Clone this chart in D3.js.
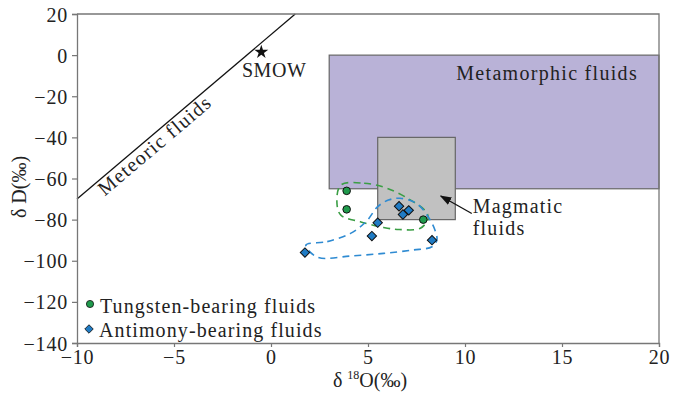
<!DOCTYPE html>
<html>
<head>
<meta charset="utf-8">
<script src="https://cdn.jsdelivr.net/npm/d3@7"></script>
<style>
	body { margin: 0; background: #fff; }
	svg text { font-family: 'Liberation Serif', 'Times New Roman', Times, 'DejaVu Serif', serif; fill: #222; }
</style>
</head>
<body>
<svg id="chart" width="673" height="393"></svg>
<script>
// δ18O / δD values
const tungstenX = [3.9, 3.9, 7.85];
const tungstenY = [-66, -75, -80];
const antimonyX = [6.6, 7.1, 6.8, 5.5, 5.2, 8.3, 1.75];
const antimonyY = [-73.5, -75.5, -77.5, -81.5, -88, -90, -96];

// dashed envelopes around each group (δ18O, δD)
const tungstenHull = [
	[3.6, -63.2], [4.8, -62.3], [6.0, -64.8], [7.2, -70.5], [8.0, -76.2], [8.1, -79.5],
	[7.7, -84.2], [6.6, -84.8], [5.8, -83.8], [4.6, -81.0], [3.6, -77.8], [3.4, -72.0],
];
const antimonyHull = [
	[1.8, -92.4], [2.9, -90.7], [4.1, -86.7], [4.9, -81.0], [5.5, -73.7], [6.05, -70.5],
	[6.65, -69.6], [7.5, -72.1], [8.1, -78.6], [8.45, -85.1], [8.55, -89.9], [8.3, -93.2],
	[7.3, -94.8], [5.8, -96.4], [4.1, -97.7], [2.4, -98.3],
];

// fluid fields
const metamorphicBox = { x0: 3, x1: 20, y0: 0, y1: -65 };
const magmaticBox = { x0: 5.5, x1: 9.5, y0: -40, y1: -80 };
const smow = [-0.5, 1.5];

const xTicks = [-10, -5, 0, 5, 10, 15, 20];
const yTicks = [20, 0, -20, -40, -60, -80, -100, -120, -140];

const serif = "'Liberation Serif', 'Times New Roman', Times, 'DejaVu Serif', serif";
const margin = { left: 77, right: 14, top: 14, bottom: 50 };
const width = 673;
const height = 393;

const svg = d3.select('#chart');
const x = d3.scaleLinear().domain([-10, 20]).range([margin.left, width - margin.right]);
const y = d3.scaleLinear().domain([-140, 20]).range([height - margin.bottom, margin.top]);

const plot = svg.append('g');

plot.append('rect')
	.attr('x', x(metamorphicBox.x0))
	.attr('y', y(metamorphicBox.y0))
	.attr('width', x(metamorphicBox.x1) - x(metamorphicBox.x0))
	.attr('height', y(metamorphicBox.y1) - y(metamorphicBox.y0))
	.attr('fill', '#b9b2d7')
	.attr('stroke', '#666')
	.attr('stroke-width', 1.2);

plot.append('rect')
	.attr('x', x(magmaticBox.x0))
	.attr('y', y(magmaticBox.y0))
	.attr('width', x(magmaticBox.x1) - x(magmaticBox.x0))
	.attr('height', y(magmaticBox.y1) - y(magmaticBox.y0))
	.attr('fill', '#c1c1c1')
	.attr('stroke', '#666')
	.attr('stroke-width', 1.2);

// meteoric water line: δD = 8·δ18O + 10
const mwl = (v) => 8 * v + 10;
plot.append('line')
	.attr('x1', x(-10)).attr('y1', y(mwl(-10)))
	.attr('x2', x(1.25)).attr('y2', y(mwl(1.25)))
	.attr('stroke', '#111')
	.attr('stroke-width', 1.3);

const mwlAngle = Math.atan2(y(mwl(0)) - y(mwl(-10)), x(0) - x(-10)) * 180 / Math.PI;
plot.append('text')
	.attr('transform', `translate(${x(-9.1)},${y(mwl(-9.1))}) rotate(${mwlAngle})`)
	.attr('y', 16)
	.attr('font-size', 20)
	.attr('letter-spacing', 1.3)
	.text('Meteoric fluids');

plot.append('path')
	.attr('d', d3.symbol(d3.symbolStar, 60)())
	.attr('transform', `translate(${x(smow[0])},${y(smow[1])})`)
	.attr('fill', '#111');
plot.append('text')
	.attr('x', x(-1.5)).attr('y', y(-10.5))
	.attr('font-size', 20)
	.attr('letter-spacing', 0.6)
	.text('SMOW');

plot.append('text')
	.attr('x', x(9.55)).attr('y', y(-12.2))
	.attr('font-size', 20)
	.attr('letter-spacing', 1.3)
	.text('Metamorphic fluids');

const magLabel = plot.append('text')
	.attr('x', x(10.4)).attr('y', y(-76.8))
	.attr('font-size', 20)
	.attr('letter-spacing', 1.2);
magLabel.append('tspan').text('Magmatic');
magLabel.append('tspan').attr('x', x(10.4)).attr('dy', 22).text('fluids');

svg.append('defs').append('marker')
	.attr('id', 'arrow')
	.attr('viewBox', '0 0 10 10')
	.attr('refX', 9).attr('refY', 5)
	.attr('markerWidth', 9).attr('markerHeight', 9)
	.attr('orient', 'auto')
	.append('path')
	.attr('d', 'M0,1.5 L10,5 L0,8.5 z')
	.attr('fill', '#111');
plot.append('line')
	.attr('x1', x(10.35)).attr('y1', y(-77))
	.attr('x2', x(8.75)).attr('y2', y(-68.5))
	.attr('stroke', '#111')
	.attr('stroke-width', 1.3)
	.attr('marker-end', 'url(#arrow)');

// dashed envelopes
const hullLine = d3.line()
	.x((d) => x(d[0]))
	.y((d) => y(d[1]))
	.curve(d3.curveCatmullRomClosed.alpha(0.5));
plot.append('path')
	.attr('d', hullLine(tungstenHull))
	.attr('fill', 'none')
	.attr('stroke', '#3a9e44')
	.attr('stroke-width', 1.6)
	.attr('stroke-dasharray', '7,5');
plot.append('path')
	.attr('d', hullLine(antimonyHull))
	.attr('fill', 'none')
	.attr('stroke', '#2f8bd2')
	.attr('stroke-width', 1.6)
	.attr('stroke-dasharray', '7,5');

// data points
const diamond = d3.symbol(d3.symbolSquare, 44)();
plot.selectAll('path.antimony').data(d3.range(antimonyX.length)).enter().append('path')
	.attr('class', 'antimony')
	.attr('d', diamond)
	.attr('transform', (i) => `translate(${x(antimonyX[i])},${y(antimonyY[i])}) rotate(45)`)
	.attr('fill', '#1f7bc4')
	.attr('stroke', '#111')
	.attr('stroke-width', 1);
plot.selectAll('circle.tungsten').data(d3.range(tungstenX.length)).enter().append('circle')
	.attr('class', 'tungsten')
	.attr('cx', (i) => x(tungstenX[i]))
	.attr('cy', (i) => y(tungstenY[i]))
	.attr('r', 3.8)
	.attr('fill', '#1f9a4c')
	.attr('stroke', '#111')
	.attr('stroke-width', 1);

// frame
svg.append('path')
	.attr('d', `M${x(-10)},${y(20)} H${x(20)} V${y(-140)}`)
	.attr('fill', 'none')
	.attr('stroke', '#777')
	.attr('stroke-width', 1.3);

const fmt = (d) => d < 0 ? '\u2212' + Math.abs(d) : d;
const xAxis = svg.append('g')
	.attr('transform', `translate(0,${y(-140)})`)
	.call(d3.axisBottom(x).tickValues(xTicks).tickSize(4).tickPadding(3).tickFormat(fmt));
const yAxis = svg.append('g')
	.attr('transform', `translate(${x(-10)},0)`)
	.call(d3.axisLeft(y).tickValues(yTicks).tickSize(5).tickPadding(4).tickFormat(fmt));
[xAxis, yAxis].forEach((g) => {
	g.attr('font-family', serif).attr('font-size', 20);
	g.select('.domain').attr('stroke', '#777').attr('stroke-width', 1.3);
	g.selectAll('.tick line').attr('stroke', '#777').attr('stroke-width', 1.2);
	g.selectAll('.tick text')
		.attr('letter-spacing', 0.8)
		.attr('fill', '#222');
});
yAxis.selectAll('.tick text').attr('dy', '0.35em');

// axis titles
const xTitle = svg.append('text')
	.attr('x', 370).attr('y', 387)
	.attr('text-anchor', 'middle')
	.attr('font-size', 20);
xTitle.append('tspan').text('δ ');
xTitle.append('tspan').attr('font-size', 12).attr('dy', -8).text('18');
xTitle.append('tspan').attr('dy', 8).text('O(‰)');

svg.append('text')
	.attr('transform', 'translate(26,187) rotate(-90)')
	.attr('text-anchor', 'middle')
	.attr('font-size', 20)
	.text('δ D(‰)');

// legend
const legend = svg.append('g');
legend.append('circle')
	.attr('cx', 90).attr('cy', 304)
	.attr('r', 3.6)
	.attr('fill', '#1f9a4c')
	.attr('stroke', '#111')
	.attr('stroke-width', 0.8);
legend.append('text')
	.attr('x', 100).attr('y', 313)
	.attr('font-size', 20)
	.attr('letter-spacing', 1.1)
	.text('Tungsten-bearing fluids');
legend.append('path')
	.attr('d', d3.symbol(d3.symbolSquare, 36)())
	.attr('transform', 'translate(89,329) rotate(45)')
	.attr('fill', '#1f7bc4')
	.attr('stroke', '#111')
	.attr('stroke-width', 0.8);
legend.append('text')
	.attr('x', 99).attr('y', 337)
	.attr('font-size', 20)
	.attr('letter-spacing', 1.1)
	.text('Antimony-bearing fluids');
</script>
</body>
</html>
